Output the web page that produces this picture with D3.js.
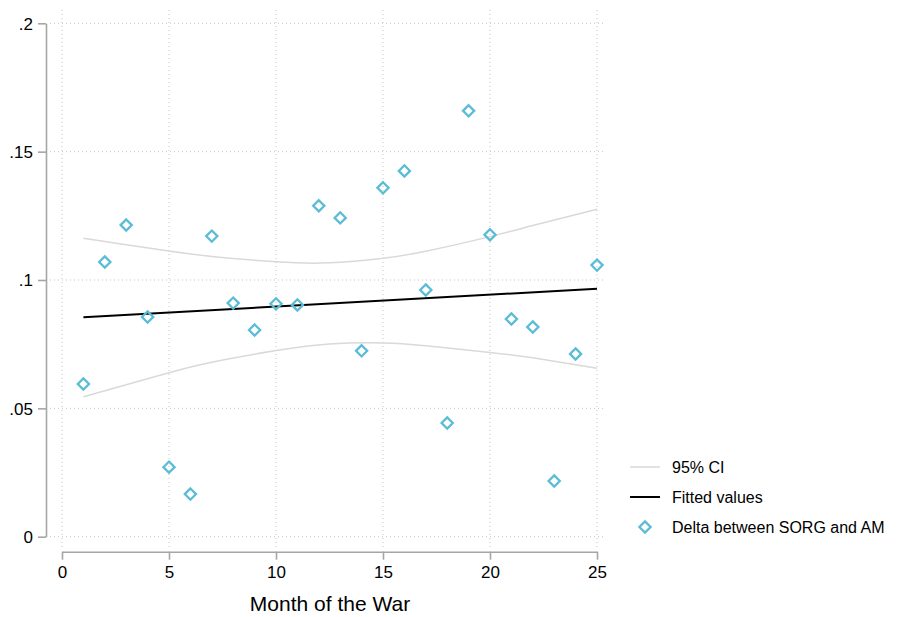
<!DOCTYPE html>
<html>
<head>
    <meta charset="utf-8">
    <title>Delta between SORG and AM</title>
    <script src="https://d3js.org/d3.v7.min.js"></script>
    <style>
        body { margin: 0; background: #fff; }
        text { font-family: Helvetica, Arial, "Liberation Sans", sans-serif; fill: #000; }
        .grid line { stroke: #c4c4c4; stroke-width: 1; stroke-dasharray: 1 3; }
        .axis path, .axis line { stroke: #a6a6a6; stroke-width: 1.6; }
    </style>
</head>
<body>
    <div id="chart"></div>
    <script>
        // scatter: month of the war and delta
        const months = d3.range(1, 26);
        const deltas = [0.0595, 0.107, 0.1214, 0.0856, 0.0271, 0.0166, 0.1171, 0.091, 0.0805, 0.0907,
                        0.0903, 0.1289, 0.1242, 0.0724, 0.1359, 0.1425, 0.0961, 0.0443, 0.1659, 0.1176,
                        0.0848, 0.0817, 0.0217, 0.0712, 0.1058];

        // fitted line (ends)
        const fitMonths = [1, 25];
        const fitValues = [0.0855, 0.0966];

        // 95% CI bounds, read at a few months
        const ciMonths = [1, 3, 5, 7, 10, 12.5, 15, 17, 20, 22, 25];
        const ciUpper = [0.1163, 0.1137, 0.1113, 0.1092, 0.1071, 0.1067, 0.1085, 0.1112, 0.1169, 0.1212, 0.1276];
        const ciLower = [0.0545, 0.0592, 0.0639, 0.0680, 0.0725, 0.0751, 0.0755, 0.0744, 0.0718, 0.0697, 0.0656];

        const xTicks = [0, 5, 10, 15, 20, 25];
        const yTicks = [0, 0.05, 0.1, 0.15, 0.2];
        const yTickLabels = ['0', '.05', '.1', '.15', '.2'];
        const legendLabels = ['95% CI', 'Fitted values', 'Delta between SORG and AM'];

        const width = 910, height = 617;
        const colDiamond = '#5bbcd6';
        const colCI = '#d9d9d9';

        const svg = d3.select('#chart').append('svg')
            .attr('width', width)
            .attr('height', height);

        const x = d3.scaleLinear().domain([0, 25]).range([62, 597]);
        const y = d3.scaleLinear().domain([0, 0.2]).range([536.7, 23.3]);

        // gridlines
        const grid = svg.append('g').attr('class', 'grid');
        grid.selectAll('.vg').data(xTicks).enter().append('line')
            .attr('x1', d => x(d)).attr('x2', d => x(d))
            .attr('y1', 10).attr('y2', 547);
        grid.selectAll('.hg').data(yTicks).enter().append('line')
            .attr('x1', 50).attr('x2', 606)
            .attr('y1', d => y(d)).attr('y2', d => y(d));

        // y axis
        const yAxis = svg.append('g')
            .attr('class', 'axis')
            .attr('transform', 'translate(46,0)')
            .call(d3.axisLeft(y).tickValues(yTicks).tickSize(8).tickSizeOuter(0)
                .tickFormat((d, i) => yTickLabels[i]));
        yAxis.selectAll('text').style('font-size', '17px').attr('x', -13).attr('dy', '0.34em');

        // x axis
        const xAxis = svg.append('g')
            .attr('class', 'axis')
            .attr('transform', 'translate(0,551.7)')
            .call(d3.axisBottom(x).tickValues(xTicks).tickSize(8).tickSizeOuter(0));
        xAxis.selectAll('text').style('font-size', '17px').attr('y', 14);

        svg.append('text')
            .attr('x', 330).attr('y', 611)
            .attr('text-anchor', 'middle')
            .style('font-size', '21px')
            .text('Month of the War');

        // CI curves
        const ciLine = vals => d3.line()
            .x((d, i) => x(ciMonths[i]))
            .y((d, i) => y(vals[i]))
            .curve(d3.curveNatural)(ciMonths);
        svg.append('path').attr('d', ciLine(ciUpper))
            .attr('fill', 'none').attr('stroke', colCI).attr('stroke-width', 1.5);
        svg.append('path').attr('d', ciLine(ciLower))
            .attr('fill', 'none').attr('stroke', colCI).attr('stroke-width', 1.5);

        // fitted line
        svg.append('path')
            .attr('d', d3.line().x((d, i) => x(fitMonths[i])).y((d, i) => y(fitValues[i]))(fitMonths))
            .attr('fill', 'none').attr('stroke', '#000').attr('stroke-width', 2);

        // diamonds
        const diamond = d3.symbol().type(d3.symbolDiamond2).size(80);
        svg.selectAll('.pt').data(months).enter().append('path')
            .attr('d', diamond)
            .attr('transform', (d, i) => `translate(${x(d)},${y(deltas[i])})`)
            .attr('fill', 'none').attr('stroke', colDiamond).attr('stroke-width', 2.3);

        // legend
        const lg = svg.append('g');
        const rowY = [467, 497, 527];
        lg.append('line').attr('x1', 630).attr('x2', 660).attr('y1', rowY[0]).attr('y2', rowY[0])
            .attr('stroke', colCI).attr('stroke-width', 1.5);
        lg.append('line').attr('x1', 630).attr('x2', 660).attr('y1', rowY[1]).attr('y2', rowY[1])
            .attr('stroke', '#000').attr('stroke-width', 2);
        lg.append('path').attr('d', diamond)
            .attr('transform', `translate(645,${rowY[2]})`)
            .attr('fill', 'none').attr('stroke', colDiamond).attr('stroke-width', 2.3);
        lg.selectAll('.lt').data(legendLabels).enter().append('text')
            .attr('x', 672).attr('y', (d, i) => rowY[i])
            .attr('dy', '0.35em')
            .style('font-size', '16px')
            .text(d => d);
    </script>
</body>
</html>
